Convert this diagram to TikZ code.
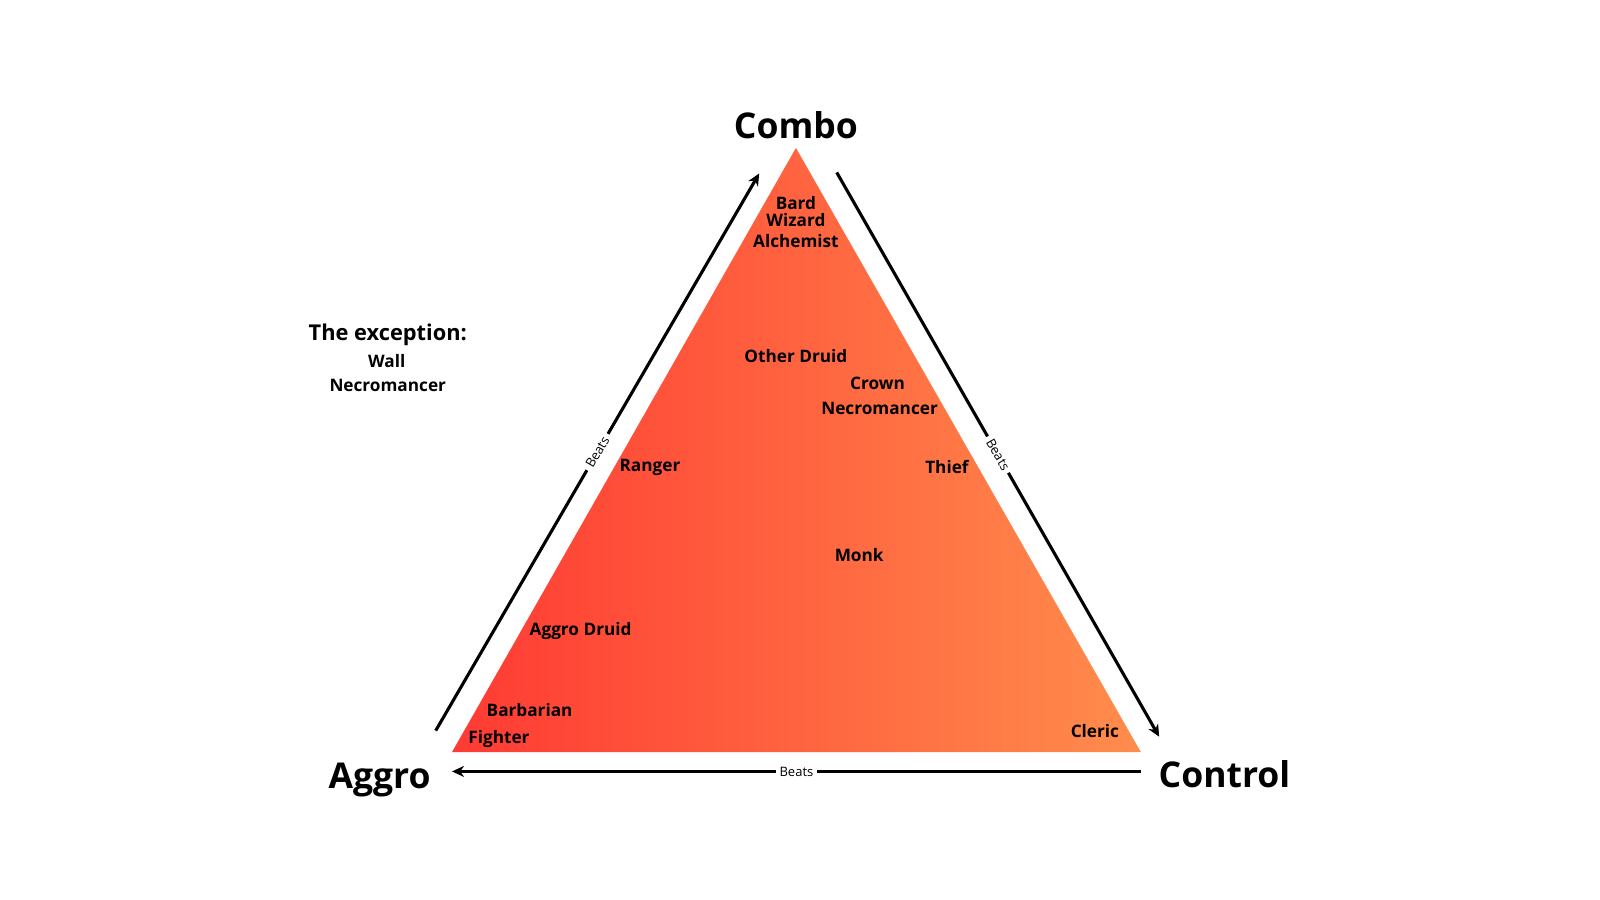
\documentclass[tikz,border=0pt]{standalone}
\usepackage{fontspec}
\setmainfont{Open Sans}
\usetikzlibrary{arrows.meta}
\definecolor{redL}{HTML}{FF3A33}
\definecolor{orR}{HTML}{FF8D4C}
\begin{document}
\begin{tikzpicture}[x=1.0204pt,y=-1.0204pt,
  big/.style={font=\fontsize{35.5}{38}\selectfont\bfseries, text=black},
  cls/.style={font=\fontsize{17.2}{19}\selectfont\bfseries, text=black, inner sep=0pt},
  beatlbl/.style={font=\fontsize{13}{14}\selectfont, fill=white, inner xsep=4pt, inner ysep=0pt, text=black},
  beatarrow/.style={line width=3.1pt, -{Stealth[length=12pt,width=11pt]}}]
\useasboundingbox[fill=white] (0,0) rectangle (1568,882);
% triangle
\coordinate (T) at (780,145);
\coordinate (L) at (443,737);
\coordinate (R) at (1118,737);
\shade[left color=redL, right color=orR] (T) -- (R) -- (L) -- cycle;
% corner labels
\node[big] (combo) at (780,123) {Combo};
\node[big] (aggro) at (372,764) {Aggro};
\node[big] (control) at (1200,759) {Control};
% arrows
\coordinate (a1s) at (427,716);
\coordinate (a1e) at (744,170);
\coordinate (a2s) at (820,169);
\coordinate (a2e) at (1136,722);
\coordinate (a3s) at (1118,756);
\coordinate (a3e) at (443,756);
\draw[beatarrow] (a1s) -- node[beatlbl, sloped, pos=0.5] (b1) {Beats} (a1e);
\draw[beatarrow] (a2s) -- node[beatlbl, sloped, pos=0.5] (b2) {Beats} (a2e);
\draw[beatarrow] (a3s) -- node[beatlbl, pos=0.5] (b3) {Beats} (a3e);
% classes
\node[cls] (bard) at (780,199) {Bard};
\node[cls] (wizard) at (780,216) {Wizard};
\node[cls] (alch) at (780,236) {Alchemist};
\node[cls] (odruid) at (780,349) {Other Druid};
\node[cls] (crown) at (860,376) {Crown};
\node[cls] (cnecro) at (862,400) {Necromancer};
\node[cls] (ranger) at (637,458) {Ranger};
\node[cls] (thief) at (928,458) {Thief};
\node[cls] (monk) at (842,544) {Monk};
\node[cls] (adruid) at (569,618) {Aggro Druid};
\node[cls] (barb) at (519,696) {Barbarian};
\node[cls] (fighter) at (489,724) {Fighter};
\node[cls] (cleric) at (1073,716) {Cleric};
% exception
\node[font=\fontsize{21.8}{24}\selectfont\bfseries, inner sep=0pt] (exc) at (380,328) {The exception:};
\node[cls] (wall) at (379,354) {Wall};
\node[cls] (wnecro) at (380,378) {Necromancer};
\end{tikzpicture}
\end{document}
